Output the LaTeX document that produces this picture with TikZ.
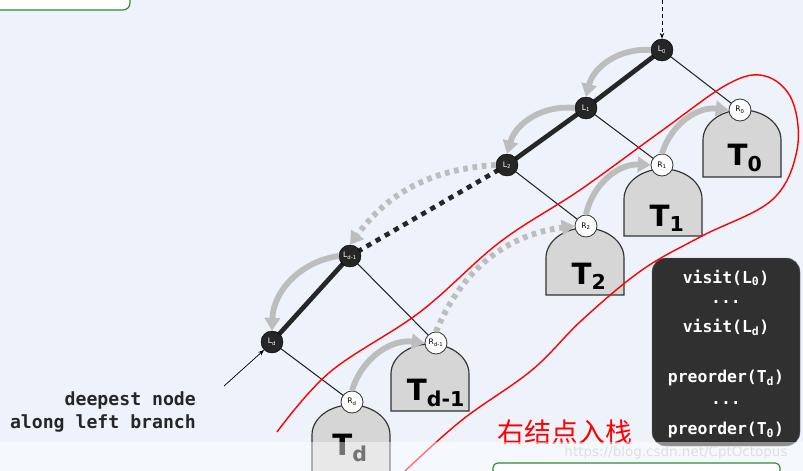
\documentclass[tikz,border=0pt]{standalone}
\usepackage{fontspec}
\setmonofont{DejaVu Sans Mono}
\newfontfamily\cjk{Noto Sans CJK SC}
\newfontfamily\sansf{DejaVu Sans}
\usetikzlibrary{arrows.meta}
\definecolor{bg}{HTML}{EEF3FB}
\definecolor{treefill}{HTML}{D6D6D6}
\definecolor{arr}{HTML}{BDBDBD}
\definecolor{boxc}{HTML}{303030}
\definecolor{gr}{HTML}{2E8B2E}
\tikzset{
 lnode/.style={circle,draw=black,fill=black!85,minimum size=22*0.03cm,inner sep=0pt,text=white,font=\sansf\fontsize{6.5}{6.5}\selectfont},
 rnode/.style={circle,draw=black!80,line width=0.7pt,fill=white,minimum size=22*0.03cm,inner sep=0pt,font=\sansf\fontsize{6.5}{6.5}\selectfont},
 tree/.style={draw=black!80,line width=1pt,fill=treefill},
 tlabel/.style={font=\sansf\bfseries\fontsize{25}{25}\selectfont},
 spine/.style={line width=4pt,black!85},
 twig/.style={line width=0.9pt,black!85},
 garrow/.style={arr,line width=5pt,-{Triangle[length=11pt,width=13pt]}},
 gdot/.style={garrow,dash pattern=on 4pt off 4pt},
 codet/.style={text=white,font=\ttfamily\bfseries\fontsize{14}{16}\selectfont},
}
\newcommand\archtree[3]{\draw[tree] (#1,#2) -- ++(0,-#3) arc[start angle=180,end angle=360,x radius=39,y radius=30] -- ++(0,#3) -- cycle;}
\begin{document}
\begin{tikzpicture}[x=0.03cm,y=-0.03cm]
\useasboundingbox (0,0) rectangle (803,471);
\fill[bg] (0,0) rectangle (803,471);
% green top-left box
\draw[gr,line width=1pt,fill=white,rounded corners=6pt] (-10,-20) rectangle (130,10);
% trees
\archtree{703}{177}{37}
\archtree{624}{236}{37}
\archtree{546}{295}{37}
\archtree{391}{411}{37}
\archtree{312}{500}{65}
\node[tlabel] (t0) at (745,158) {T\textsubscript{0}};
\node[tlabel] (t1) at (667,218) {T\textsubscript{1}};
\node[tlabel] (t2) at (589,276) {T\textsubscript{2}};
\node[tlabel] (td1) at (436,393) {T\textsubscript{d-1}};
\node[tlabel] (td) at (350,448) {T\textsubscript{d}};
% nodes
\coordinate (L0) at (662,50);
\coordinate (L1) at (586,108);
\coordinate (L2) at (507,165);
\coordinate (Ld1) at (350,256);
\coordinate (Ld) at (272,342);
\coordinate (R0) at (740,110);
\coordinate (R1) at (662,165);
\coordinate (R2) at (586,226);
\coordinate (Rd1) at (436,343);
\coordinate (Rd) at (352,402);
% edges
\draw[spine] (L0) -- (L1);
\draw[spine] (L1) -- (L2);
\draw[spine] (Ld1) -- (Ld);
\draw[line width=4pt,black!85,dash pattern=on 4.5pt off 4.5pt,shorten <=8pt] (L2) -- (Ld1);
\draw[twig] (L0) -- (R0);
\draw[twig] (L1) -- (R1);
\draw[twig] (L2) -- (R2);
\draw[twig] (Ld1) -- (Rd1);
\draw[twig] (Ld) -- (Rd);
\node[lnode] (nL0) at (L0) {L\textsubscript{0}};
\node[lnode] (nL1) at (L1) {L\textsubscript{1}};
\node[lnode] (nL2) at (L2) {L\textsubscript{2}};
\node[lnode] (nLd1) at (Ld1) {L\textsubscript{d-1}};
\node[lnode] (nLd) at (Ld) {L\textsubscript{d}};
\node[rnode] (nR0) at (R0) {R\textsubscript{0}};
\node[rnode] (nR1) at (R1) {R\textsubscript{1}};
\node[rnode] (nR2) at (R2) {R\textsubscript{2}};
\node[rnode] (nRd1) at (Rd1) {R\textsubscript{d-1}};
\node[rnode] (nRd) at (Rd) {R\textsubscript{d}};
% gray arrows
\draw[garrow] (nL0.west) to[bend right=40] (nL1.north);
\draw[garrow] (nL1.west) to[bend right=40] (nL2.north);
\draw[gdot] (nL2.west) to[bend right=25] (nLd1.north);
\draw[garrow] (nLd1.west) to[bend right=40] (nLd.north);
\draw[garrow] (nRd.north) to[bend left=40] (nRd1.west);
\draw[gdot] (nRd1.north) to[bend left=30] (nR2.west);
\draw[garrow] (nR2.north) to[bend left=40] (nR1.west);
\draw[garrow] (nR1.north) to[bend left=40] (nR0.west);
% dashed entry
\coordinate (top) at (662,0);
\draw[line width=0.8pt,dashed,-{Stealth[length=5pt]}] (top) -- (nL0.north);
% deepest node
\node[align=right,anchor=east,font=\ttfamily\bfseries\fontsize{15.5}{19}\selectfont,text=black!85] (deep) at (200,412) {deepest node\\along left branch};
\coordinate (da) at (224,386);
\draw[line width=0.6pt,-{Stealth[length=5pt]}] (da) -- (nLd.south west);
% code box
\draw[fill=boxc,draw=black!60,rounded corners=12pt] (652,258) rectangle (800,446);
\node[codet] (c1) at (726,278) {visit(L\textsubscript{0})};
\node[codet] (c2) at (726,302) {...};
\node[codet] (c3) at (726,327) {visit(L\textsubscript{d})};
\node[codet] (c4) at (726,378) {preorder(T\textsubscript{d})};
\node[codet] (c5) at (726,403) {...};
\node[codet] (c6) at (726,430) {preorder(T\textsubscript{0})};
% red loop
\draw[red,line width=1.2pt] plot[smooth,tension=0.6] coordinates {(277,432) (330,372) (420,312) (500,242) (580,190) (660,132) (728,84) (765,76) (792,100) (797,150) (772,200) (702,236) (642,270) (582,320) (532,370) (462,420) (405,471)};
\node[red,font=\cjk\fontsize{23}{23}\selectfont] (zh) at (565,432) {右结点入栈};
% bottom band
\fill[white,opacity=0.45] (0,442) rectangle (803,471);
\node[white!75!gray,font=\sansf\fontsize{11.5}{11.5}\selectfont] (wm) at (676,453) {https://blog.csdn.net/CptOctopus};
\draw[gr,line width=1pt,fill=white,rounded corners=4pt] (493,463) rectangle (780,480);
\end{tikzpicture}
\end{document}
